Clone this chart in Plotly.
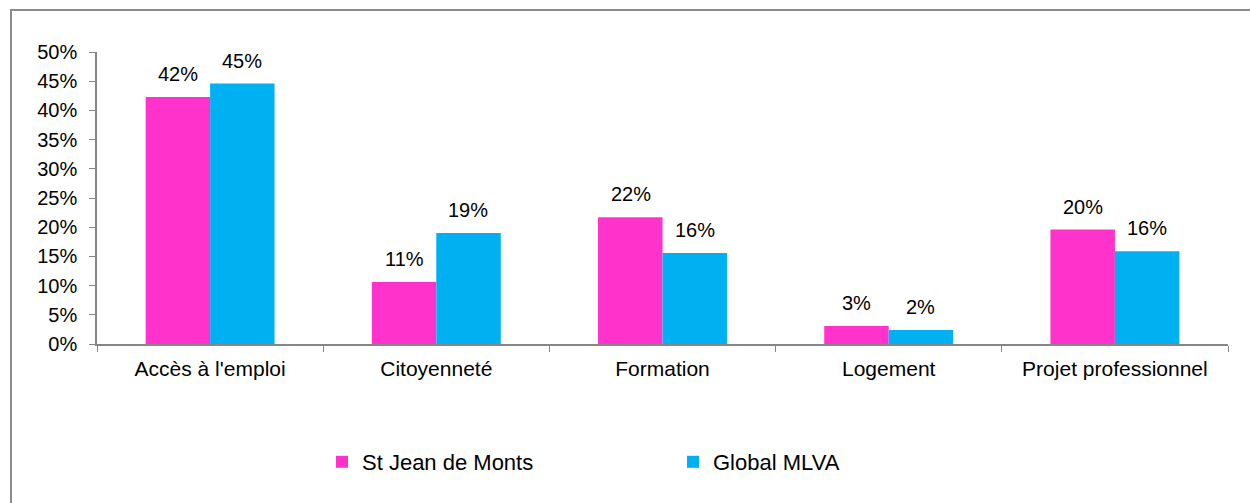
import plotly.graph_objects as go

categories = ["Accès à l'emploi", "Citoyenneté", "Formation", "Logement", "Projet professionnel"]
st_jean = [0.423, 0.106, 0.217, 0.031, 0.196]
global_mlva = [0.446, 0.190, 0.156, 0.024, 0.159]
series_names = ["St Jean de Monts", "Global MLVA"]
y_ticks = [0, 0.05, 0.10, 0.15, 0.20, 0.25, 0.30, 0.35, 0.40, 0.45, 0.50]

PINK = "#FF33CC"
BLUE = "#00B0F0"
FONT = "Liberation Sans, Arial, sans-serif"
W, H = 1250, 503
L, R, T, B = 97, 22, 52, 159

fig = go.Figure()
fig.add_trace(go.Bar(x=categories, y=st_jean, name=series_names[0],
                     marker=dict(color=PINK, line=dict(width=0))))
fig.add_trace(go.Bar(x=categories, y=global_mlva, name=series_names[1],
                     marker=dict(color=BLUE, line=dict(width=0))))

annotations = []
for vals, shift in ((st_jean, -32), (global_mlva, 32)):
    for c, v in zip(categories, vals):
        annotations.append(dict(x=c, y=v, xref="x", yref="y", text=f"{round(v*100):d}%",
                                showarrow=False, xshift=shift, yshift=10, yanchor="bottom",
                                font=dict(family=FONT, size=20, color="#000000")))

pw = W - L - R
ph = H - T - B
def px_x(p):
    return (p - L) / pw
def px_y(p):
    return (H - B - p) / ph

fig.update_layout(
    width=W, height=H,
    margin=dict(l=L, r=R, t=T, b=B),
    paper_bgcolor="white", plot_bgcolor="white",
    barmode="group", bargap=0.43, bargroupgap=0,
    font=dict(family=FONT, size=20, color="#000000"),
    showlegend=True,
    legend=dict(orientation="h", x=px_x(322), y=px_y(462), xanchor="left", yanchor="middle",
                font=dict(family=FONT, size=22), entrywidth=306, itemwidth=30,
                traceorder="normal"),
    annotations=annotations,
    shapes=[dict(type="rect", xref="paper", yref="paper",
                 x0=px_x(11), x1=px_x(1262), y0=px_y(515), y1=px_y(10),
                 line=dict(color="#8C8C8C", width=2), fillcolor="rgba(0,0,0,0)", layer="below")],
)
fig.update_xaxes(type="category", showline=True, linecolor="#868686", linewidth=1.5,
                 ticks="outside", tickson="boundaries", ticklen=6, tickcolor="#868686",
                 showgrid=False, tickfont=dict(family=FONT, size=21), ticklabelstandoff=5)
fig.update_yaxes(range=[0, 0.5], tickvals=y_ticks, tickformat=".0%", showline=True,
                 linecolor="#868686", linewidth=1.5, ticks="outside", ticklen=6,
                 tickcolor="#868686", showgrid=False, zeroline=False,
                 tickfont=dict(family=FONT, size=20), ticklabelstandoff=8)

fig.write_html("out.html", config={"displayModeBar": False},
               post_script="document.body.style.margin='0';document.body.style.overflow='hidden';")
